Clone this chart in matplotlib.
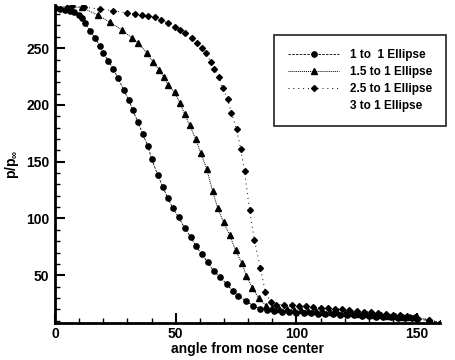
import matplotlib
matplotlib.use("Agg")
import matplotlib.pyplot as plt

plt.rcParams['font.family'] = ['Liberation Sans', 'DejaVu Sans']
plt.rcParams['mathtext.fontset'] = 'custom'
plt.rcParams['mathtext.bf'] = 'Liberation Sans:bold'
plt.rcParams['mathtext.rm'] = 'Liberation Sans:bold'
plt.rcParams['mathtext.it'] = 'Liberation Sans:bold'

# ---- data ----
labels = ["1 to  1 Ellipse", "1.5 to 1 Ellipse", "2.5 to 1 Ellipse", "3 to 1 Ellipse"]

x1 = [0, 2, 4, 6, 8, 10, 11, 12.4, 14.5, 16.5, 18.6, 20, 22, 24, 26, 28.5, 30.6, 32.2,
      34.3, 36.4, 38.4, 40.1, 42.6, 44.6, 46.7, 48.8, 51.2, 53.7, 56.2, 58.3, 60.7,
      63.2, 65.7, 68.2, 71.1, 73.6, 76, 79.3, 82.2, 85.1, 88, 90.9, 94, 97, 100, 103,
      106, 109, 112, 115, 118, 121, 124, 127, 130, 133, 136, 139, 142, 145, 148, 150,
      155, 160]
y1 = [285, 284.7, 284, 283, 281.5, 279, 276.5, 272, 265, 259, 252, 246, 239, 232, 224,
      213, 204, 195.6, 185, 174, 164, 152, 138, 128, 118, 109, 101, 91.6, 83.7, 75.8,
      68.7, 61.7, 53.7, 48.5, 42.3, 36.1, 31.7, 27.3, 22.9, 20.3, 19.4, 18.5, 18, 17.5,
      17, 16.8, 16.5, 16.2, 16, 15.6, 15.2, 15, 14.7, 14.4, 14, 13.6, 13.3, 13, 12.7,
      12.4, 12, 11.5, 10, 8]

x2 = [0, 5, 11, 17.8, 22.7, 27.7, 31.8, 34.3, 38, 40.5, 43, 45, 46.7, 49.6, 51.7, 53.7,
      55.8, 58.3, 60.3, 62.8, 65.3, 67.4, 69.8, 72.3, 74.8, 77.3, 79.3, 81.8, 84.3, 87.6,
      90, 93, 96, 99, 102, 105, 108, 111, 114, 117, 120, 123, 126, 129, 132, 135, 138,
      141, 144, 147, 150, 155, 160]
y2 = [286, 286.5, 286, 279, 273, 266, 259, 255, 246, 238, 231, 225, 218, 211, 202, 192,
      182, 170, 158, 144, 124, 109, 97, 85.5, 72, 61, 49.3, 38.8, 30, 23, 21, 20.5, 20,
      19.6, 19.2, 18.8, 18.4, 18, 17.6, 17.2, 16.8, 16.4, 16, 15.6, 15.2, 14.8, 14.4,
      14, 13.6, 13.2, 12.8, 10.5, 8]

x3 = [0, 7, 12, 18.6, 24, 30, 33, 36, 38.4, 41.3, 44, 46.7, 49.6, 51.7, 54, 56.6, 58.7,
      60.7, 62.6, 64.5, 66, 67.8, 69.4, 71.5, 73.1, 75.2, 76.9, 78.5, 80.6, 82.6, 85.1,
      87.2, 89.5, 91.7, 95, 98, 101, 104, 107, 110, 113, 116, 119, 122, 125, 128, 131,
      134, 137, 140, 143, 146, 149, 155, 160]
y3 = [286, 287, 286, 284.5, 283, 281, 280, 279, 278, 277.5, 275, 272, 269, 266, 263, 259,
      254.6, 250, 245.5, 238, 232, 225, 215, 205, 193, 178.5, 161.5, 141.5, 107.5, 81,
      56, 35, 26, 24, 24, 23.5, 23, 22.5, 22, 21.5, 21, 20.5, 20, 19.3, 18.7, 18, 17.3,
      16.6, 16, 15.4, 14.8, 14.2, 13.5, 11, 8]

xticks = [0, 50, 100, 150]
yticks = [50, 100, 150, 200, 250]

# ---- figure ----
fig = plt.figure(figsize=(4.55, 3.6), dpi=100)
ax = fig.add_axes([0.121, 0.103, 0.846, 0.883])

ax.plot(x1, y1, color='black', linestyle=(0, (3, 1.5)), lw=0.6,
        marker='o', ms=3.8, mec='black', mfc='black', label=labels[0])
ax.plot(x2, y2, color='black', linestyle=(0, (1, 1)), lw=0.7,
        marker='^', ms=3.8, mec='black', mfc='black', label=labels[1])
ax.plot(x3, y3, color='black', linestyle=(0, (1, 4)), lw=0.7,
        marker='D', ms=3.0, mec='black', mfc='black', label=labels[2])
ax.plot([], [], linestyle='none', label=labels[3])

ax.set_xlim(0, 159.5)
ax.set_ylim(8, 288)
ax.set_xticks(xticks)
ax.set_yticks(yticks)
ax.set_xticks(range(0, 160, 10), minor=True)
ax.set_yticks(range(10, 290, 10), minor=True)

for s in ['top', 'right']:
    ax.spines[s].set_visible(False)
for s in ['left', 'bottom']:
    ax.spines[s].set_linewidth(2.0)

ax.tick_params(which='major', direction='in', length=7, width=1.5, labelsize=10)
ax.tick_params(axis='x', which='major', pad=3)
ax.tick_params(axis='y', which='major', pad=4)
ax.tick_params(which='minor', direction='in', length=3.5, width=1.0)
for lab in ax.get_xticklabels() + ax.get_yticklabels():
    lab.set_fontweight('bold')

ax.set_xlabel('angle from nose center', fontsize=10, fontweight='bold', labelpad=1)
ax.set_ylabel(r'p/p$_{\infty}$', fontsize=10, fontweight='bold', labelpad=4)

leg = ax.legend(loc='upper left', bbox_to_anchor=(0.569, 0.906), frameon=True,
                fancybox=False, prop={'weight': 'bold', 'size': 8.5},
                handlelength=4.3, handletextpad=0.9, labelspacing=0.42,
                borderpad=1.2, borderaxespad=0)
leg.get_frame().set_edgecolor('black')
leg.get_frame().set_linewidth(1.3)

fig.savefig('out.png', dpi=100)
